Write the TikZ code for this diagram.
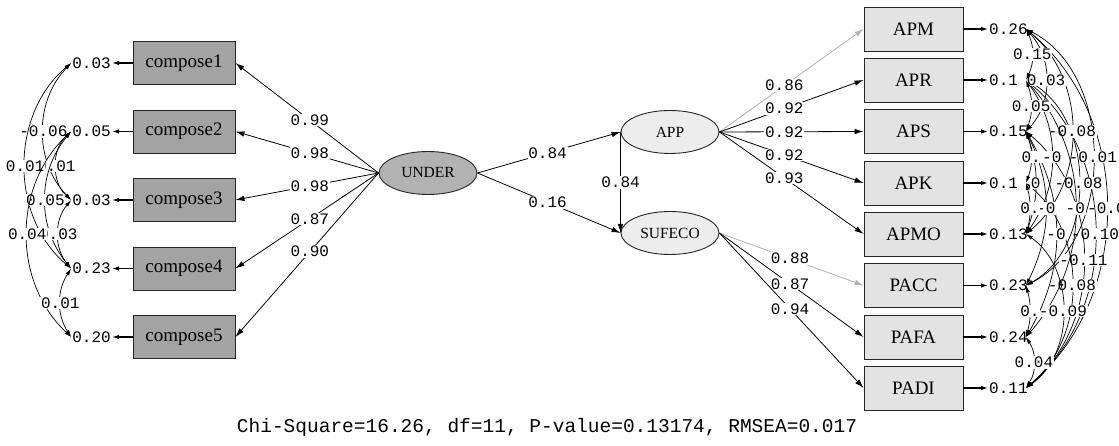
\documentclass[tikz,border=0pt]{standalone}
\usepackage{fontspec}
\setmainfont{Liberation Serif}
\setmonofont{Liberation Mono}
\usetikzlibrary{arrows.meta,shapes.geometric}

\tikzset{
  obsleft/.style={draw=black!85, line width=0.9pt, fill=black!36,
    minimum width=102pt, minimum height=43pt, inner sep=0pt,
    font=\fontsize{19}{19}\selectfont},
  obsright/.style={obsleft, fill=black!11, minimum width=99pt, minimum height=44pt},
  latent/.style={ellipse, draw=black!85, line width=0.9pt, fill=black!7,
    minimum width=98pt, minimum height=43pt, inner sep=0pt,
    font=\fontsize{15.5}{15.5}\selectfont},
  coef/.style={fill=white, inner sep=0.8pt, font=\ttfamily\fontsize{16}{16}\selectfont},
  errval/.style={inner sep=1pt, font=\ttfamily\fontsize{16}{16}\selectfont},
  loadarrow/.style={line width=0.8pt, -{Latex[length=9pt,width=5.5pt]}},
  errarrow/.style={line width=1.2pt, -{Latex[length=7pt,width=4.5pt]}},
  covarc/.style={line width=0.7pt,
    {Latex[length=7pt,width=4pt]}-{Latex[length=7pt,width=4pt]}},
}

\begin{document}
\begin{tikzpicture}[x=1pt,y=1pt]
  \useasboundingbox (0,0) rectangle (1119,446);

  % observed variables, left
  \node[obsleft] (c1) at (184,383)   {compose1};
  \node[obsleft] (c2) at (184,314.5) {compose2};
  \node[obsleft] (c3) at (184,246)   {compose3};
  \node[obsleft] (c4) at (184,177.5) {compose4};
  \node[obsleft] (c5) at (184,109)   {compose5};

  \node[errval, anchor=east] (ec1) at (112,383)   {0.03};
  \node[errval, anchor=east] (ec2) at (112,314.5) {0.05};
  \node[errval, anchor=east] (ec3) at (112,246)   {0.03};
  \node[errval, anchor=east] (ec4) at (112,177.5) {0.23};
  \node[errval, anchor=east] (ec5) at (112,109)   {0.20};

  \draw[errarrow] (c1) -- (ec1);
  \draw[errarrow] (c2) -- (ec2);
  \draw[errarrow] (c3) -- (ec3);
  \draw[errarrow] (c4) -- (ec4);
  \draw[errarrow] (c5) -- (ec5);

  % latent variables
  \node[latent, fill=black!30] (under) at (428,273) {UNDER};
  \node[latent] (app)    at (670,314) {APP};
  \node[latent] (sufeco) at (670,213) {SUFECO};

  % observed variables, right
  \node[obsright] (apm)  at (913.5,417)   {APM};
  \node[obsright] (apr)  at (913.5,366)   {APR};
  \node[obsright] (aps)  at (913.5,314.5) {APS};
  \node[obsright] (apk)  at (913.5,263)   {APK};
  \node[obsright] (apmo) at (913.5,212)   {APMO};
  \node[obsright] (pacc) at (913.5,160.5) {PACC};
  \node[obsright] (pafa) at (913.5,109)   {PAFA};
  \node[obsright] (padi) at (913.5,58)    {PADI};

  \node[errval, anchor=west] (eapm)  at (988,417)   {0.26};
  \node[errval, anchor=west] (eapr)  at (988,366)   {0.1};
  \node[errval, anchor=west] (eaps)  at (988,314.5) {0.15};
  \node[errval, anchor=west] (eapk)  at (988,263)   {0.1};
  \node[errval, anchor=west] (eapmo) at (988,212)   {0.13};
  \node[errval, anchor=west] (epacc) at (988,160.5) {0.23};
  \node[errval, anchor=west] (epafa) at (988,109)   {0.24};
  \node[errval, anchor=west] (epadi) at (988,58)    {0.11};

  \draw[errarrow] (apm)  -- (eapm);
  \draw[errarrow] (apr)  -- (eapr);
  \draw[errarrow] (aps)  -- (eaps);
  \draw[errarrow] (apk)  -- (eapk);
  \draw[errarrow] (apmo) -- (eapmo);
  \draw[errarrow] (pacc) -- (epacc);
  \draw[errarrow] (pafa) -- (epafa);
  \draw[errarrow] (padi) -- (epadi);

  % loadings
  \draw[loadarrow] (under.west) -- node[coef, pos=0.48] {0.99} (c1.east);
  \draw[loadarrow] (under.west) -- node[coef, pos=0.48] {0.98} (c2.east);
  \draw[loadarrow] (under.west) -- node[coef, pos=0.48] {0.98} (c3.east);
  \draw[loadarrow] (under.west) -- node[coef, pos=0.48] {0.87} (c4.east);
  \draw[loadarrow] (under.west) -- node[coef, pos=0.48] {0.90} (c5.east);

  \draw[loadarrow] (under.east) -- node[coef, pos=0.49] {0.84} (app.west);
  \draw[loadarrow] (under.east) -- node[coef, pos=0.49] {0.16} (sufeco.west);
  \draw[loadarrow] (app.west) -- node[coef] {0.84} (sufeco.west);

  \draw[loadarrow, draw=black!30, -{Latex[length=9pt,width=5.5pt,fill=black!30]}]
    (app.east) -- node[coef, pos=0.45] {0.86} (apm.west);
  \draw[loadarrow] (app.east) -- node[coef, pos=0.45] {0.92} (apr.west);
  \draw[loadarrow] (app.east) -- node[coef, pos=0.45] {0.92} (aps.west);
  \draw[loadarrow] (app.east) -- node[coef, pos=0.45] {0.92} (apk.west);
  \draw[loadarrow] (app.east) -- node[coef, pos=0.45] {0.93} (apmo.west);

  \draw[loadarrow, draw=black!30, -{Latex[length=9pt,width=5.5pt,fill=black!30]}]
    (sufeco.east) -- node[coef, pos=0.49] {0.88} (pacc.west);
  \draw[loadarrow] (sufeco.east) -- node[coef, pos=0.49] {0.87} (pafa.west);
  \draw[loadarrow] (sufeco.east) -- node[coef, pos=0.49] {0.94} (padi.west);

  % error covariances, left
  \draw[covarc] (ec1.west) to[bend right=44] node[coef] {-0.06} (ec3.west);
  \draw[covarc] (ec2.west) to[bend right=48] node[coef] {0.01} (ec3.west);
  \draw[covarc] (ec1.west) to[bend right=50] node[coef] {0.01} (ec4.west);
  \draw[covarc] (ec2.west) to[bend right=40] node[coef] {0.05} (ec4.west);
  \draw[covarc] (ec3.west) to[bend right=40] node[coef] {0.03} (ec4.west);
  \draw[covarc] (ec2.west) to[bend right=47] node[coef] {0.04} (ec5.west);
  \draw[covarc] (ec4.west) to[bend right=33] node[coef] {0.01} (ec5.west);

  % error covariances, right
  \coordinate (kapm)  at (1026,417);
  \coordinate (kapr)  at (1026,366);
  \coordinate (kaps)  at (1026,314.5);
  \coordinate (kapk)  at (1026,263);
  \coordinate (kapmo) at (1026,212);
  \coordinate (kpacc) at (1026,160.5);
  \coordinate (kpafa) at (1026,109);
  \coordinate (kpadi) at (1026,58);

  \draw[covarc] (kapm) to[bend left=50] node[coef] {-0.0} (kpadi);
  \draw[covarc] (kapr) to[bend left=50] node[coef] {-0.10} (kpadi);
  \draw[covarc] (kapm) to[bend left=63] node[coef] {-0.01} (kpacc);
  \draw[covarc] (kaps) to[bend left=50] node[coef] {-0.11} (kpadi);
  \draw[covarc] (kapr) to[bend left=61] node[coef] {-0.08} (kpacc);
  \draw[covarc] (kapm) to[bend left=50] node[coef] {-0.08} (kapmo);
  \draw[covarc] (kapk) to[bend left=50] node[coef] {-0.08} (kpadi);
  \draw[covarc] (kapr) to[bend left=41] node[coef] {-0} (kpafa);
  \draw[covarc] (kapmo) to[bend left=55] node[coef] {-0.09} (kpadi);
  \draw[covarc] (kaps) to[bend left=30] node[coef] {-0} (kpafa);
  \draw[covarc] (kapr) to[bend left=35] node[coef] {-0} (kapmo);
  \draw[covarc] (kaps) to[bend left=26] node[coef] {-0} (kpacc);
  \draw[covarc] (kapm) to[bend left=42] node[coef] {0.03} (kaps);
  \draw[covarc] (kaps) to[bend left=19] node[coef] {0} (kapmo);
  \draw[covarc] (kapm) to[bend left=25] node[coef] {0.15} (kapr);
  \draw[covarc] (kapr) to[bend left=20] node[coef] {0.05} (kaps);
  \draw[covarc] (kaps) to[bend left=20] node[coef] {0.} (kapk);
  \draw[covarc] (kapk) to[bend left=15] node[coef] {0.} (kapmo);
  \draw[covarc] (kpacc) to[bend left=15] node[coef] {0.} (kpafa);
  \draw[covarc] (kpafa) to[bend left=32] node[coef] {0.04} (kpadi);

  % fit statistics
  \node[font=\ttfamily\fontsize{19.5}{19.5}\selectfont] (fitstat) at (547,19)
    {Chi-Square=16.26, df=11, P-value=0.13174, RMSEA=0.017};
\end{tikzpicture}
\end{document}
